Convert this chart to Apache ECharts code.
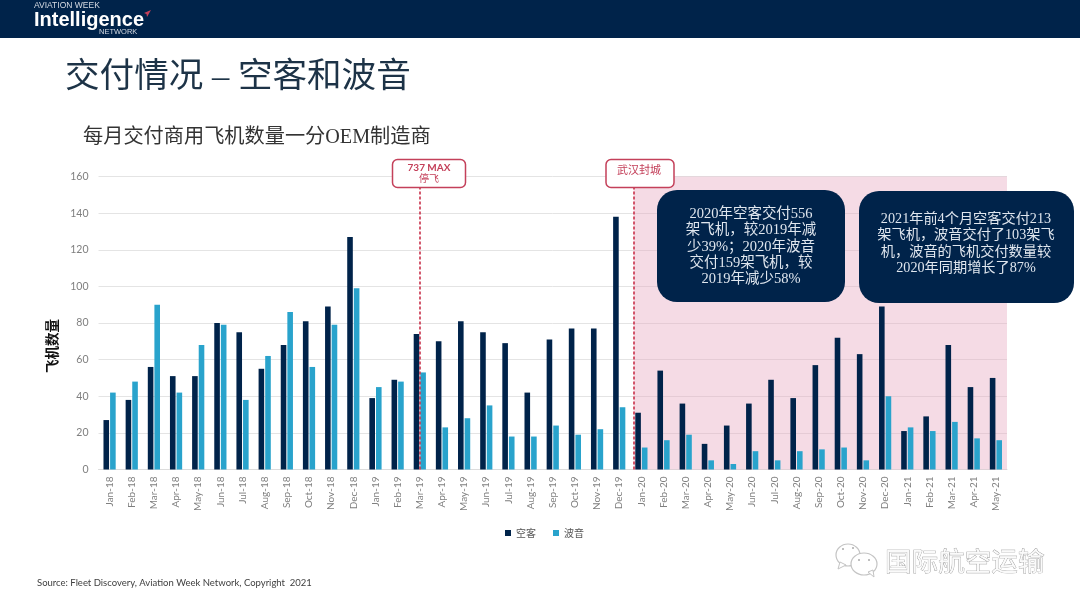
<!DOCTYPE html>
<html>
<head>
<meta charset="utf-8">
<script src="https://cdn.jsdelivr.net/npm/echarts@6/dist/echarts.min.js"></script>
<style>
html, body { margin: 0; padding: 0; background: #fff; }
#chart { width: 1080px; height: 608px; }
</style>
</head>
<body>
<div id="chart"></div>
<script>
var months = [
	'Jan-18', 'Feb-18', 'Mar-18', 'Apr-18', 'May-18', 'Jun-18', 'Jul-18', 'Aug-18', 'Sep-18', 'Oct-18', 'Nov-18', 'Dec-18',
	'Jan-19', 'Feb-19', 'Mar-19', 'Apr-19', 'May-19', 'Jun-19', 'Jul-19', 'Aug-19', 'Sep-19', 'Oct-19', 'Nov-19', 'Dec-19',
	'Jan-20', 'Feb-20', 'Mar-20', 'Apr-20', 'May-20', 'Jun-20', 'Jul-20', 'Aug-20', 'Sep-20', 'Oct-20', 'Nov-20', 'Dec-20',
	'Jan-21', 'Feb-21', 'Mar-21', 'Apr-21', 'May-21'
];
var airbus = [
	27, 38, 56, 51, 51, 80, 75, 55, 68, 81, 89, 127,
	39, 49, 74, 70, 81, 75, 69, 42, 71, 77, 77, 138,
	31, 54, 36, 14, 24, 36, 49, 39, 57, 72, 63, 89,
	21, 29, 68, 45, 50
];
var boeing = [
	42, 48, 90, 42, 68, 79, 38, 62, 86, 56, 79, 99,
	45, 48, 53, 23, 28, 35, 18, 18, 24, 19, 22, 34,
	12, 16, 19, 5, 3, 10, 5, 10, 11, 12, 5, 40,
	23, 21, 26, 17, 16
];
var callout2020 = ['2020年空客交付556', '架飞机，较2019年减', '少39%；2020年波音', '交付159架飞机，较', '2019年减少58%'];
var callout2021 = ['2021年前4个月空客交付213', '架飞机，波音交付了103架飞', '机，波音的飞机交付数量较', '2020年同期增长了87%'];

var NAVY = '#00234a';
var TEAL = '#29a3cc';
var RED = '#c4405a';
var SERIF = '"Liberation Serif", "Noto Sans CJK SC", serif';
var SANS = 'Lato, "Noto Sans CJK SC", sans-serif';

// 事件线和粉色区域放在隐藏的数值轴上，单位是类目序号
var maxLineX = 14.5;
var lockdownX = 24.15;
var eventTop = 154;

var chart = echarts.init(document.getElementById('chart'), null, { renderer: 'canvas' });

var textEl = function (x, y, text, size, color, extra) {
	var style = {
		x: x,
		y: y,
		text: text,
		fill: color,
		font: (extra && extra.weight ? extra.weight + ' ' : '') + size + 'px ' + (extra && extra.family ? extra.family : SANS),
		align: extra && extra.align ? extra.align : 'left',
		verticalAlign: 'middle'
	};
	if (extra && extra.stroke) {
		style.stroke = extra.stroke;
		style.lineWidth = extra.lineWidth;
	}
	return { type: 'text', z: 20, style: style };
};

var boxEl = function (x, y, w, h, r, fill, stroke) {
	return {
		type: 'rect',
		z: 15,
		shape: { x: x, y: y, width: w, height: h, r: r },
		style: { fill: fill, stroke: stroke || null, lineWidth: stroke ? 1.5 : 0 }
	};
};

var bubbleEl = function (cx, cy, rx, ry, z) {
	return { type: 'ellipse', z: z, shape: { cx: cx, cy: cy, rx: rx, ry: ry }, style: { fill: '#ffffff', stroke: '#c4c4c4', lineWidth: 1.2 } };
};

var dotEl = function (cx, cy) {
	return { type: 'circle', z: 23, shape: { cx: cx, cy: cy, r: 1 }, style: { fill: '#aaaaaa' } };
};

var graphics = [
	{ type: 'rect', z: 10, shape: { x: 0, y: 0, width: 1080, height: 38 }, style: { fill: NAVY } },
	textEl(34, 6, 'AVIATION WEEK', 8.5, '#d5dbe3', { family: '"Liberation Sans", sans-serif' }),
	textEl(34, 20, 'Intelligence', 20, '#ffffff', { weight: 'bold', family: '"Liberation Sans", sans-serif' }),
	textEl(99, 32, 'NETWORK', 7.5, '#d5dbe3', { family: '"Liberation Sans", sans-serif' }),
	{ type: 'polygon', z: 20, shape: { points: [[144, 13], [151, 10], [147, 17], [146.5, 14]] }, style: { fill: '#c4405a' } },
	textEl(65, 78, '交付情况 – 空客和波音', 34.6, '#1d3347', { family: SERIF }),
	textEl(83, 138, '每月交付商用飞机数量一分OEM制造商', 20.2, '#333333', { family: SERIF }),
	{
		type: 'text',
		z: 20,
		x: 52,
		y: 346,
		rotation: Math.PI / 2,
		style: { x: 0, y: 0, text: '飞机数量', fill: '#111111', font: 'bold 13.5px "Noto Sans CJK SC"', align: 'center', verticalAlign: 'middle' }
	},
	boxEl(392.5, 159.5, 73, 28, 5, '#ffffff', RED),
	textEl(429, 168, '737 MAX', 10, RED, { align: 'center', weight: 'bold' }),
	textEl(429, 179, '停飞', 10, RED, { align: 'center', family: SERIF }),
	boxEl(606, 159.5, 68, 28, 5, '#ffffff', RED),
	textEl(639, 171, '武汉封城', 11, RED, { align: 'center', family: SERIF }),
	boxEl(657, 190, 188, 112, 20, NAVY),
	boxEl(859, 191, 215, 112, 20, NAVY),
	textEl(37, 583, 'Source: Fleet Discovery, Aviation Week Network, Copyright  2021', 9.5, '#404040'),
	textEl(885, 561, '国际航空运输', 26.6, '#fafafa', { stroke: '#8f8f8f', lineWidth: 0.7, family: '"Noto Sans CJK SC"' }),
	bubbleEl(848, 555, 12, 11, 20),
	{ type: 'polygon', z: 20, shape: { points: [[840, 562], [838, 569], [846, 565]] }, style: { fill: '#ffffff', stroke: '#c4c4c4', lineWidth: 1 } },
	bubbleEl(864, 564, 13, 11, 21),
	{ type: 'polygon', z: 21, shape: { points: [[868, 572], [874, 577], [873, 570]] }, style: { fill: '#ffffff', stroke: '#c4c4c4', lineWidth: 1 } },
	dotEl(859, 560),
	dotEl(869, 560),
	dotEl(843, 549),
	dotEl(853, 548)
];

callout2020.forEach(function (line, i) {
	graphics.push(textEl(751, 214 + i * 16.4, line, 14.5, '#dfe6ee', { align: 'center', family: SERIF }));
});
callout2021.forEach(function (line, i) {
	graphics.push(textEl(966, 219 + i * 16.4, line, 14.2, '#dfe6ee', { align: 'center', family: SERIF }));
});

var option = {
	animation: false,
	backgroundColor: '#ffffff',
	grid: { left: 98.5, right: 73, top: 176.5, bottom: 138.5 },
	legend: {
		data: ['空客', '波音'],
		left: 500,
		top: 523,
		icon: 'rect',
		itemWidth: 6,
		itemHeight: 6,
		itemGap: 17,
		textStyle: { fontSize: 10, color: '#555555', fontFamily: '"Noto Sans CJK SC"' }
	},
	xAxis: [
		{
			type: 'category',
			data: months,
			axisLine: { lineStyle: { color: '#dcdcdc' } },
			axisTick: { show: false },
			axisLabel: { interval: 0, rotate: 90, margin: 7, fontSize: 10, color: '#7f7f7f', fontFamily: 'Lato' }
		},
		{ type: 'value', min: 0, max: 41, show: false }
	],
	yAxis: {
		type: 'value',
		min: 0,
		max: 160,
		interval: 20,
		axisLine: { show: false },
		axisTick: { show: false },
		axisLabel: { margin: 10, fontSize: 10.5, color: '#7f7f7f', fontFamily: 'Lato' },
		splitLine: { lineStyle: { color: '#e4e4e4', width: 1 } }
	},
	series: [
		{
			name: 'lockdown',
			type: 'line',
			xAxisIndex: 1,
			data: [],
			z: 1,
			markArea: {
				silent: true,
				itemStyle: { color: 'rgba(232,170,192,0.42)' },
				data: [[{ xAxis: lockdownX, yAxis: 0 }, { xAxis: 41, yAxis: 160 }]]
			}
		},
		{ name: '空客', type: 'bar', data: airbus, barWidth: 5.6, barGap: '18%', z: 3, itemStyle: { color: NAVY } },
		{ name: '波音', type: 'bar', data: boeing, barWidth: 5.6, barGap: '18%', z: 3, itemStyle: { color: TEAL } },
		{
			name: 'events',
			type: 'line',
			xAxisIndex: 1,
			data: [],
			z: 5,
			markLine: {
				silent: true,
				symbol: 'none',
				label: { show: false },
				lineStyle: { color: '#c9304a', type: [3, 2], width: 1.6 },
				data: [
					[{ xAxis: maxLineX, yAxis: 0 }, { xAxis: maxLineX, yAxis: eventTop }],
					[{ xAxis: lockdownX, yAxis: 0 }, { xAxis: lockdownX, yAxis: eventTop }]
				]
			}
		}
	],
	graphic: { elements: graphics }
};

chart.setOption(option);
</script>
</body>
</html>
